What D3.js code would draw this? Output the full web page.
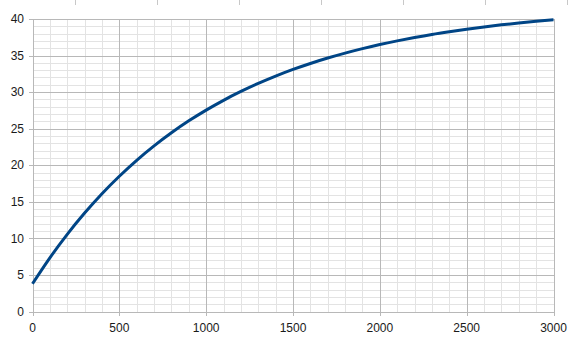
<!DOCTYPE html>
<html>
<head>
<meta charset="utf-8">
<script src="https://cdn.jsdelivr.net/npm/d3@7"></script>
<style>
  body { margin: 0; background: #fff; }
  svg { display: block; font-family: "Liberation Sans", Arial, sans-serif; }
</style>
</head>
<body>
<svg id="chart" width="576" height="338"></svg>
<script>
// values
const xValues = [0, 100, 200, 300, 400, 500, 600, 700, 800, 900, 1000,
  1100, 1200, 1300, 1400, 1500, 1600, 1700, 1800, 1900, 2000,
  2100, 2200, 2300, 2400, 2500, 2600, 2700, 2800, 2900, 3000];
const yValues = [3.80, 7.34, 10.55, 13.46, 16.11, 18.50, 20.68, 22.65, 24.44, 26.07, 27.54,
  28.88, 30.09, 31.19, 32.19, 33.10, 33.92, 34.66, 35.34, 35.95, 36.51,
  37.01, 37.47, 37.89, 38.26, 38.60, 38.92, 39.20, 39.45, 39.68, 39.89];
const xTicks = [0, 500, 1000, 1500, 2000, 2500, 3000];
const yTicks = [0, 5, 10, 15, 20, 25, 30, 35, 40];

const svg = d3.select("#chart");
const x = d3.scaleLinear().domain([0, 3000]).range([32.5, 553.5]);
const y = d3.scaleLinear().domain([0, 40]).range([311.5, 19]);

// spreadsheet column marks at the very top
svg.append("g").selectAll("line").data(d3.range(75, 576, 82)).enter().append("line")
  .attr("x1", d => d + 0.5).attr("x2", d => d + 0.5)
  .attr("y1", 0).attr("y2", 5)
  .attr("stroke", "#c8c8c8");

const grid = svg.append("g").attr("shape-rendering", "crispEdges");

// minor grid
grid.selectAll(".vminor").data(d3.range(0, 3001, 100).filter(v => v % 500)).enter().append("line")
  .attr("x1", d => Math.round(x(d)) + 0.5).attr("x2", d => Math.round(x(d)) + 0.5)
  .attr("y1", y(40)).attr("y2", y(0))
  .attr("stroke", "#e3e3e3");
grid.selectAll(".hminor").data(d3.range(0, 41, 1).filter(v => v % 5)).enter().append("line")
  .attr("x1", x(0)).attr("x2", x(3000))
  .attr("y1", d => Math.round(y(d)) + 0.5).attr("y2", d => Math.round(y(d)) + 0.5)
  .attr("stroke", "#e3e3e3");

// major grid
grid.selectAll(".vmajor").data(xTicks).enter().append("line")
  .attr("x1", d => Math.round(x(d)) + 0.5).attr("x2", d => Math.round(x(d)) + 0.5)
  .attr("y1", y(40)).attr("y2", y(0) + 4)
  .attr("stroke", "#b8b8b8");
grid.selectAll(".hmajor").data(yTicks).enter().append("line")
  .attr("x1", x(0) - 4).attr("x2", x(3000))
  .attr("y1", d => Math.round(y(d)) + 0.5).attr("y2", d => Math.round(y(d)) + 0.5)
  .attr("stroke", "#b8b8b8");

// tick labels
svg.append("g").selectAll("text").data(yTicks).enter().append("text")
  .attr("x", 24).attr("y", d => y(d))
  .attr("dy", "0.35em")
  .attr("text-anchor", "end")
  .attr("font-size", 12)
  .attr("fill", "#1a1a1a")
  .text(d => d);

svg.append("g").selectAll("text").data(xTicks).enter().append("text")
  .attr("x", d => x(d)).attr("y", 332)
  .attr("text-anchor", "middle")
  .attr("font-size", 12)
  .attr("fill", "#1a1a1a")
  .text(d => d);

// the curve
const line = d3.line()
  .x((d, i) => x(xValues[i]))
  .y(d => y(d))
  .curve(d3.curveMonotoneX);

svg.append("path")
  .datum(yValues)
  .attr("d", line)
  .attr("fill", "none")
  .attr("stroke", "#004586")
  .attr("stroke-width", 3)
  .attr("stroke-linejoin", "round");
</script>
</body>
</html>
